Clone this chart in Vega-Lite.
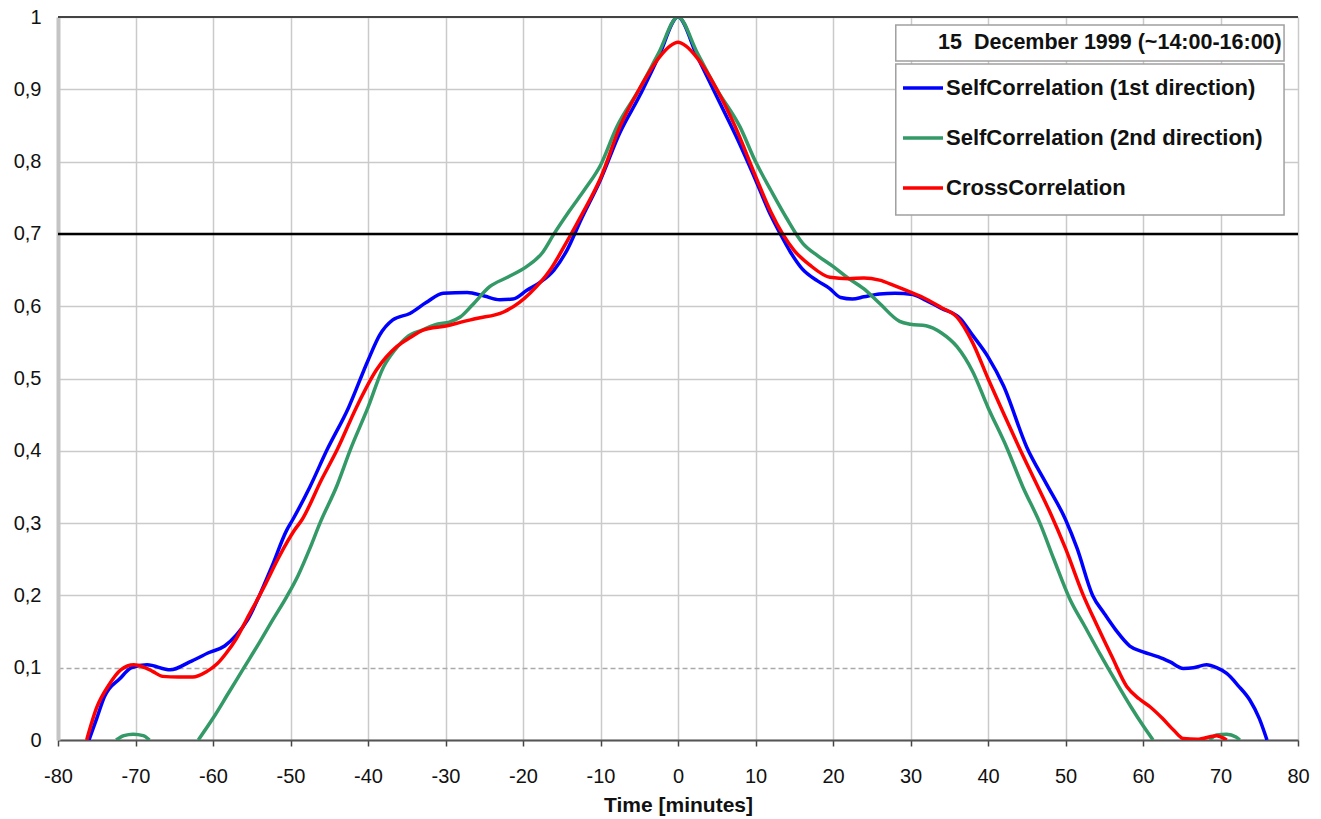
{
  "$schema": "https://vega.github.io/schema/vega-lite/v6.json",
  "autosize": "none",
  "width": 1240,
  "height": 723,
  "padding": {"left": 58, "top": 17, "right": 23, "bottom": 79},
  "background": "white",
  "config": {
    "view": {"stroke": null},
    "font": "Liberation Sans",
    "axis": {"grid": true, "labelFont": "Liberation Sans", "titleFont": "Liberation Sans", "gridColor": "#cacaca", "gridWidth": 1.5, "labelColor": "#111", "titleColor": "#111"},
    "axisX": {"grid": true},
    "axisY": {"grid": true}
  },
  "datasets": {
    "curves": [
      {"t": -76, "r": 0, "series": "SelfCorrelation (1st direction)", "seg": "a"},
      {"t": -75, "r": 0.03, "series": "SelfCorrelation (1st direction)", "seg": "a"},
      {"t": -74, "r": 0.06, "series": "SelfCorrelation (1st direction)", "seg": "a"},
      {"t": -72, "r": 0.085, "series": "SelfCorrelation (1st direction)", "seg": "a"},
      {"t": -70.5, "r": 0.1, "series": "SelfCorrelation (1st direction)", "seg": "a"},
      {"t": -68.5, "r": 0.104, "series": "SelfCorrelation (1st direction)", "seg": "a"},
      {"t": -65.5, "r": 0.097, "series": "SelfCorrelation (1st direction)", "seg": "a"},
      {"t": -63, "r": 0.108, "series": "SelfCorrelation (1st direction)", "seg": "a"},
      {"t": -60.5, "r": 0.121, "series": "SelfCorrelation (1st direction)", "seg": "a"},
      {"t": -58.5, "r": 0.13, "series": "SelfCorrelation (1st direction)", "seg": "a"},
      {"t": -57, "r": 0.145, "series": "SelfCorrelation (1st direction)", "seg": "a"},
      {"t": -55.5, "r": 0.167, "series": "SelfCorrelation (1st direction)", "seg": "a"},
      {"t": -54, "r": 0.2, "series": "SelfCorrelation (1st direction)", "seg": "a"},
      {"t": -52.4, "r": 0.24, "series": "SelfCorrelation (1st direction)", "seg": "a"},
      {"t": -50.5, "r": 0.29, "series": "SelfCorrelation (1st direction)", "seg": "a"},
      {"t": -49.7, "r": 0.305, "series": "SelfCorrelation (1st direction)", "seg": "a"},
      {"t": -47.5, "r": 0.35, "series": "SelfCorrelation (1st direction)", "seg": "a"},
      {"t": -45.3, "r": 0.401, "series": "SelfCorrelation (1st direction)", "seg": "a"},
      {"t": -42.5, "r": 0.46, "series": "SelfCorrelation (1st direction)", "seg": "a"},
      {"t": -40, "r": 0.525, "series": "SelfCorrelation (1st direction)", "seg": "a"},
      {"t": -38.5, "r": 0.56, "series": "SelfCorrelation (1st direction)", "seg": "a"},
      {"t": -36.8, "r": 0.581, "series": "SelfCorrelation (1st direction)", "seg": "a"},
      {"t": -34.6, "r": 0.59, "series": "SelfCorrelation (1st direction)", "seg": "a"},
      {"t": -32.5, "r": 0.605, "series": "SelfCorrelation (1st direction)", "seg": "a"},
      {"t": -30.3, "r": 0.618, "series": "SelfCorrelation (1st direction)", "seg": "a"},
      {"t": -27.2, "r": 0.619, "series": "SelfCorrelation (1st direction)", "seg": "a"},
      {"t": -25, "r": 0.614, "series": "SelfCorrelation (1st direction)", "seg": "a"},
      {"t": -23, "r": 0.609, "series": "SelfCorrelation (1st direction)", "seg": "a"},
      {"t": -21.3, "r": 0.61, "series": "SelfCorrelation (1st direction)", "seg": "a"},
      {"t": -19.5, "r": 0.622, "series": "SelfCorrelation (1st direction)", "seg": "a"},
      {"t": -17.8, "r": 0.633, "series": "SelfCorrelation (1st direction)", "seg": "a"},
      {"t": -16, "r": 0.65, "series": "SelfCorrelation (1st direction)", "seg": "a"},
      {"t": -14.3, "r": 0.678, "series": "SelfCorrelation (1st direction)", "seg": "a"},
      {"t": -12.5, "r": 0.72, "series": "SelfCorrelation (1st direction)", "seg": "a"},
      {"t": -10, "r": 0.775, "series": "SelfCorrelation (1st direction)", "seg": "a"},
      {"t": -7.5, "r": 0.84, "series": "SelfCorrelation (1st direction)", "seg": "a"},
      {"t": -5, "r": 0.89, "series": "SelfCorrelation (1st direction)", "seg": "a"},
      {"t": -2.5, "r": 0.945, "series": "SelfCorrelation (1st direction)", "seg": "a"},
      {"t": 0, "r": 1.0, "series": "SelfCorrelation (1st direction)", "seg": "a"},
      {"t": 2.5, "r": 0.945, "series": "SelfCorrelation (1st direction)", "seg": "a"},
      {"t": 5, "r": 0.89, "series": "SelfCorrelation (1st direction)", "seg": "a"},
      {"t": 7.5, "r": 0.835, "series": "SelfCorrelation (1st direction)", "seg": "a"},
      {"t": 10, "r": 0.775, "series": "SelfCorrelation (1st direction)", "seg": "a"},
      {"t": 12, "r": 0.725, "series": "SelfCorrelation (1st direction)", "seg": "a"},
      {"t": 13.2, "r": 0.7, "series": "SelfCorrelation (1st direction)", "seg": "a"},
      {"t": 14.5, "r": 0.675, "series": "SelfCorrelation (1st direction)", "seg": "a"},
      {"t": 16, "r": 0.652, "series": "SelfCorrelation (1st direction)", "seg": "a"},
      {"t": 18, "r": 0.635, "series": "SelfCorrelation (1st direction)", "seg": "a"},
      {"t": 19.5, "r": 0.625, "series": "SelfCorrelation (1st direction)", "seg": "a"},
      {"t": 21, "r": 0.612, "series": "SelfCorrelation (1st direction)", "seg": "a"},
      {"t": 22.5, "r": 0.61, "series": "SelfCorrelation (1st direction)", "seg": "a"},
      {"t": 24, "r": 0.613, "series": "SelfCorrelation (1st direction)", "seg": "a"},
      {"t": 26, "r": 0.617, "series": "SelfCorrelation (1st direction)", "seg": "a"},
      {"t": 28, "r": 0.618, "series": "SelfCorrelation (1st direction)", "seg": "a"},
      {"t": 30.3, "r": 0.616, "series": "SelfCorrelation (1st direction)", "seg": "a"},
      {"t": 32, "r": 0.608, "series": "SelfCorrelation (1st direction)", "seg": "a"},
      {"t": 34, "r": 0.597, "series": "SelfCorrelation (1st direction)", "seg": "a"},
      {"t": 36.4, "r": 0.583, "series": "SelfCorrelation (1st direction)", "seg": "a"},
      {"t": 38, "r": 0.56, "series": "SelfCorrelation (1st direction)", "seg": "a"},
      {"t": 40, "r": 0.53, "series": "SelfCorrelation (1st direction)", "seg": "a"},
      {"t": 42, "r": 0.49, "series": "SelfCorrelation (1st direction)", "seg": "a"},
      {"t": 45, "r": 0.405, "series": "SelfCorrelation (1st direction)", "seg": "a"},
      {"t": 47.5, "r": 0.355, "series": "SelfCorrelation (1st direction)", "seg": "a"},
      {"t": 50, "r": 0.305, "series": "SelfCorrelation (1st direction)", "seg": "a"},
      {"t": 51.5, "r": 0.265, "series": "SelfCorrelation (1st direction)", "seg": "a"},
      {"t": 53.5, "r": 0.2, "series": "SelfCorrelation (1st direction)", "seg": "a"},
      {"t": 55, "r": 0.175, "series": "SelfCorrelation (1st direction)", "seg": "a"},
      {"t": 56.5, "r": 0.152, "series": "SelfCorrelation (1st direction)", "seg": "a"},
      {"t": 58.3, "r": 0.13, "series": "SelfCorrelation (1st direction)", "seg": "a"},
      {"t": 60, "r": 0.122, "series": "SelfCorrelation (1st direction)", "seg": "a"},
      {"t": 62, "r": 0.115, "series": "SelfCorrelation (1st direction)", "seg": "a"},
      {"t": 63.5, "r": 0.108, "series": "SelfCorrelation (1st direction)", "seg": "a"},
      {"t": 65.2, "r": 0.099, "series": "SelfCorrelation (1st direction)", "seg": "a"},
      {"t": 66.5, "r": 0.1, "series": "SelfCorrelation (1st direction)", "seg": "a"},
      {"t": 68.2, "r": 0.104, "series": "SelfCorrelation (1st direction)", "seg": "a"},
      {"t": 69.5, "r": 0.1, "series": "SelfCorrelation (1st direction)", "seg": "a"},
      {"t": 70.8, "r": 0.092, "series": "SelfCorrelation (1st direction)", "seg": "a"},
      {"t": 72.3, "r": 0.075, "series": "SelfCorrelation (1st direction)", "seg": "a"},
      {"t": 73.8, "r": 0.055, "series": "SelfCorrelation (1st direction)", "seg": "a"},
      {"t": 75, "r": 0.03, "series": "SelfCorrelation (1st direction)", "seg": "a"},
      {"t": 76, "r": 0, "series": "SelfCorrelation (1st direction)", "seg": "a"},

      {"t": -72.5, "r": 0, "series": "SelfCorrelation (2nd direction)", "seg": "a"},
      {"t": -71.5, "r": 0.006, "series": "SelfCorrelation (2nd direction)", "seg": "a"},
      {"t": -70.3, "r": 0.008, "series": "SelfCorrelation (2nd direction)", "seg": "a"},
      {"t": -69, "r": 0.006, "series": "SelfCorrelation (2nd direction)", "seg": "a"},
      {"t": -68.2, "r": 0, "series": "SelfCorrelation (2nd direction)", "seg": "a"},
      {"t": -61.9, "r": 0, "series": "SelfCorrelation (2nd direction)", "seg": "b"},
      {"t": -60, "r": 0.03, "series": "SelfCorrelation (2nd direction)", "seg": "b"},
      {"t": -58, "r": 0.065, "series": "SelfCorrelation (2nd direction)", "seg": "b"},
      {"t": -56, "r": 0.1, "series": "SelfCorrelation (2nd direction)", "seg": "b"},
      {"t": -54, "r": 0.135, "series": "SelfCorrelation (2nd direction)", "seg": "b"},
      {"t": -52.3, "r": 0.166, "series": "SelfCorrelation (2nd direction)", "seg": "b"},
      {"t": -50.5, "r": 0.198, "series": "SelfCorrelation (2nd direction)", "seg": "b"},
      {"t": -49, "r": 0.228, "series": "SelfCorrelation (2nd direction)", "seg": "b"},
      {"t": -47.5, "r": 0.265, "series": "SelfCorrelation (2nd direction)", "seg": "b"},
      {"t": -46.2, "r": 0.3, "series": "SelfCorrelation (2nd direction)", "seg": "b"},
      {"t": -44, "r": 0.352, "series": "SelfCorrelation (2nd direction)", "seg": "b"},
      {"t": -42.3, "r": 0.401, "series": "SelfCorrelation (2nd direction)", "seg": "b"},
      {"t": -40, "r": 0.46, "series": "SelfCorrelation (2nd direction)", "seg": "b"},
      {"t": -38, "r": 0.516, "series": "SelfCorrelation (2nd direction)", "seg": "b"},
      {"t": -36.5, "r": 0.54, "series": "SelfCorrelation (2nd direction)", "seg": "b"},
      {"t": -35, "r": 0.557, "series": "SelfCorrelation (2nd direction)", "seg": "b"},
      {"t": -33, "r": 0.567, "series": "SelfCorrelation (2nd direction)", "seg": "b"},
      {"t": -31.1, "r": 0.575, "series": "SelfCorrelation (2nd direction)", "seg": "b"},
      {"t": -29.5, "r": 0.578, "series": "SelfCorrelation (2nd direction)", "seg": "b"},
      {"t": -28.1, "r": 0.585, "series": "SelfCorrelation (2nd direction)", "seg": "b"},
      {"t": -26.5, "r": 0.602, "series": "SelfCorrelation (2nd direction)", "seg": "b"},
      {"t": -24.3, "r": 0.627, "series": "SelfCorrelation (2nd direction)", "seg": "b"},
      {"t": -22, "r": 0.64, "series": "SelfCorrelation (2nd direction)", "seg": "b"},
      {"t": -19.5, "r": 0.655, "series": "SelfCorrelation (2nd direction)", "seg": "b"},
      {"t": -17.5, "r": 0.674, "series": "SelfCorrelation (2nd direction)", "seg": "b"},
      {"t": -16, "r": 0.7, "series": "SelfCorrelation (2nd direction)", "seg": "b"},
      {"t": -14, "r": 0.732, "series": "SelfCorrelation (2nd direction)", "seg": "b"},
      {"t": -12, "r": 0.762, "series": "SelfCorrelation (2nd direction)", "seg": "b"},
      {"t": -10, "r": 0.795, "series": "SelfCorrelation (2nd direction)", "seg": "b"},
      {"t": -7.9, "r": 0.848, "series": "SelfCorrelation (2nd direction)", "seg": "b"},
      {"t": -5, "r": 0.9, "series": "SelfCorrelation (2nd direction)", "seg": "b"},
      {"t": -2.5, "r": 0.95, "series": "SelfCorrelation (2nd direction)", "seg": "b"},
      {"t": 0, "r": 1.0, "series": "SelfCorrelation (2nd direction)", "seg": "b"},
      {"t": 2.5, "r": 0.95, "series": "SelfCorrelation (2nd direction)", "seg": "b"},
      {"t": 5, "r": 0.9, "series": "SelfCorrelation (2nd direction)", "seg": "b"},
      {"t": 8, "r": 0.848, "series": "SelfCorrelation (2nd direction)", "seg": "b"},
      {"t": 10, "r": 0.8, "series": "SelfCorrelation (2nd direction)", "seg": "b"},
      {"t": 12, "r": 0.76, "series": "SelfCorrelation (2nd direction)", "seg": "b"},
      {"t": 14, "r": 0.722, "series": "SelfCorrelation (2nd direction)", "seg": "b"},
      {"t": 16.1, "r": 0.687, "series": "SelfCorrelation (2nd direction)", "seg": "b"},
      {"t": 18, "r": 0.67, "series": "SelfCorrelation (2nd direction)", "seg": "b"},
      {"t": 20, "r": 0.655, "series": "SelfCorrelation (2nd direction)", "seg": "b"},
      {"t": 21.8, "r": 0.64, "series": "SelfCorrelation (2nd direction)", "seg": "b"},
      {"t": 24, "r": 0.624, "series": "SelfCorrelation (2nd direction)", "seg": "b"},
      {"t": 26, "r": 0.604, "series": "SelfCorrelation (2nd direction)", "seg": "b"},
      {"t": 28.6, "r": 0.579, "series": "SelfCorrelation (2nd direction)", "seg": "b"},
      {"t": 30, "r": 0.575, "series": "SelfCorrelation (2nd direction)", "seg": "b"},
      {"t": 32, "r": 0.573, "series": "SelfCorrelation (2nd direction)", "seg": "b"},
      {"t": 34, "r": 0.563, "series": "SelfCorrelation (2nd direction)", "seg": "b"},
      {"t": 36, "r": 0.544, "series": "SelfCorrelation (2nd direction)", "seg": "b"},
      {"t": 38, "r": 0.51, "series": "SelfCorrelation (2nd direction)", "seg": "b"},
      {"t": 40, "r": 0.46, "series": "SelfCorrelation (2nd direction)", "seg": "b"},
      {"t": 42.4, "r": 0.405, "series": "SelfCorrelation (2nd direction)", "seg": "b"},
      {"t": 44.5, "r": 0.35, "series": "SelfCorrelation (2nd direction)", "seg": "b"},
      {"t": 46.7, "r": 0.3, "series": "SelfCorrelation (2nd direction)", "seg": "b"},
      {"t": 48.5, "r": 0.25, "series": "SelfCorrelation (2nd direction)", "seg": "b"},
      {"t": 50.6, "r": 0.194, "series": "SelfCorrelation (2nd direction)", "seg": "b"},
      {"t": 52.5, "r": 0.157, "series": "SelfCorrelation (2nd direction)", "seg": "b"},
      {"t": 54.5, "r": 0.118, "series": "SelfCorrelation (2nd direction)", "seg": "b"},
      {"t": 56.6, "r": 0.079, "series": "SelfCorrelation (2nd direction)", "seg": "b"},
      {"t": 58.5, "r": 0.045, "series": "SelfCorrelation (2nd direction)", "seg": "b"},
      {"t": 60, "r": 0.02, "series": "SelfCorrelation (2nd direction)", "seg": "b"},
      {"t": 61.3, "r": 0, "series": "SelfCorrelation (2nd direction)", "seg": "b"},
      {"t": 68.6, "r": 0, "series": "SelfCorrelation (2nd direction)", "seg": "c"},
      {"t": 69.5, "r": 0.007, "series": "SelfCorrelation (2nd direction)", "seg": "c"},
      {"t": 70.8, "r": 0.008, "series": "SelfCorrelation (2nd direction)", "seg": "c"},
      {"t": 72, "r": 0.004, "series": "SelfCorrelation (2nd direction)", "seg": "c"},
      {"t": 72.5, "r": 0, "series": "SelfCorrelation (2nd direction)", "seg": "c"},

      {"t": -76.3, "r": 0, "series": "CrossCorrelation", "seg": "a"},
      {"t": -75, "r": 0.045, "series": "CrossCorrelation", "seg": "a"},
      {"t": -73.5, "r": 0.075, "series": "CrossCorrelation", "seg": "a"},
      {"t": -71.9, "r": 0.097, "series": "CrossCorrelation", "seg": "a"},
      {"t": -70.2, "r": 0.104, "series": "CrossCorrelation", "seg": "a"},
      {"t": -69, "r": 0.101, "series": "CrossCorrelation", "seg": "a"},
      {"t": -67.8, "r": 0.095, "series": "CrossCorrelation", "seg": "a"},
      {"t": -66.5, "r": 0.088, "series": "CrossCorrelation", "seg": "a"},
      {"t": -64.5, "r": 0.087, "series": "CrossCorrelation", "seg": "a"},
      {"t": -62.6, "r": 0.087, "series": "CrossCorrelation", "seg": "a"},
      {"t": -60.9, "r": 0.094, "series": "CrossCorrelation", "seg": "a"},
      {"t": -59.5, "r": 0.105, "series": "CrossCorrelation", "seg": "a"},
      {"t": -58.3, "r": 0.12, "series": "CrossCorrelation", "seg": "a"},
      {"t": -57, "r": 0.14, "series": "CrossCorrelation", "seg": "a"},
      {"t": -55.7, "r": 0.166, "series": "CrossCorrelation", "seg": "a"},
      {"t": -53.5, "r": 0.21, "series": "CrossCorrelation", "seg": "a"},
      {"t": -51.4, "r": 0.255, "series": "CrossCorrelation", "seg": "a"},
      {"t": -49.5, "r": 0.29, "series": "CrossCorrelation", "seg": "a"},
      {"t": -48.5, "r": 0.305, "series": "CrossCorrelation", "seg": "a"},
      {"t": -46, "r": 0.36, "series": "CrossCorrelation", "seg": "a"},
      {"t": -44, "r": 0.401, "series": "CrossCorrelation", "seg": "a"},
      {"t": -41.5, "r": 0.46, "series": "CrossCorrelation", "seg": "a"},
      {"t": -38.9, "r": 0.512, "series": "CrossCorrelation", "seg": "a"},
      {"t": -36.3, "r": 0.544, "series": "CrossCorrelation", "seg": "a"},
      {"t": -34.5, "r": 0.557, "series": "CrossCorrelation", "seg": "a"},
      {"t": -32.9, "r": 0.567, "series": "CrossCorrelation", "seg": "a"},
      {"t": -29.8, "r": 0.573, "series": "CrossCorrelation", "seg": "a"},
      {"t": -28, "r": 0.578, "series": "CrossCorrelation", "seg": "a"},
      {"t": -26, "r": 0.583, "series": "CrossCorrelation", "seg": "a"},
      {"t": -22.5, "r": 0.592, "series": "CrossCorrelation", "seg": "a"},
      {"t": -20.5, "r": 0.605, "series": "CrossCorrelation", "seg": "a"},
      {"t": -19.1, "r": 0.618, "series": "CrossCorrelation", "seg": "a"},
      {"t": -16.5, "r": 0.65, "series": "CrossCorrelation", "seg": "a"},
      {"t": -14.3, "r": 0.69, "series": "CrossCorrelation", "seg": "a"},
      {"t": -12.5, "r": 0.725, "series": "CrossCorrelation", "seg": "a"},
      {"t": -10, "r": 0.777, "series": "CrossCorrelation", "seg": "a"},
      {"t": -7.5, "r": 0.848, "series": "CrossCorrelation", "seg": "a"},
      {"t": -5, "r": 0.9, "series": "CrossCorrelation", "seg": "a"},
      {"t": -2.5, "r": 0.943, "series": "CrossCorrelation", "seg": "a"},
      {"t": -1, "r": 0.96, "series": "CrossCorrelation", "seg": "a"},
      {"t": 0, "r": 0.965, "series": "CrossCorrelation", "seg": "a"},
      {"t": 1, "r": 0.96, "series": "CrossCorrelation", "seg": "a"},
      {"t": 2.5, "r": 0.943, "series": "CrossCorrelation", "seg": "a"},
      {"t": 5, "r": 0.9, "series": "CrossCorrelation", "seg": "a"},
      {"t": 7.4, "r": 0.848, "series": "CrossCorrelation", "seg": "a"},
      {"t": 10, "r": 0.78, "series": "CrossCorrelation", "seg": "a"},
      {"t": 12, "r": 0.73, "series": "CrossCorrelation", "seg": "a"},
      {"t": 13.5, "r": 0.7, "series": "CrossCorrelation", "seg": "a"},
      {"t": 15, "r": 0.677, "series": "CrossCorrelation", "seg": "a"},
      {"t": 17, "r": 0.657, "series": "CrossCorrelation", "seg": "a"},
      {"t": 19.6, "r": 0.64, "series": "CrossCorrelation", "seg": "a"},
      {"t": 22, "r": 0.638, "series": "CrossCorrelation", "seg": "a"},
      {"t": 24, "r": 0.639, "series": "CrossCorrelation", "seg": "a"},
      {"t": 26, "r": 0.636, "series": "CrossCorrelation", "seg": "a"},
      {"t": 28, "r": 0.628, "series": "CrossCorrelation", "seg": "a"},
      {"t": 30.3, "r": 0.618, "series": "CrossCorrelation", "seg": "a"},
      {"t": 32, "r": 0.61, "series": "CrossCorrelation", "seg": "a"},
      {"t": 34, "r": 0.598, "series": "CrossCorrelation", "seg": "a"},
      {"t": 36, "r": 0.585, "series": "CrossCorrelation", "seg": "a"},
      {"t": 38, "r": 0.55, "series": "CrossCorrelation", "seg": "a"},
      {"t": 40, "r": 0.5, "series": "CrossCorrelation", "seg": "a"},
      {"t": 42, "r": 0.452, "series": "CrossCorrelation", "seg": "a"},
      {"t": 44, "r": 0.405, "series": "CrossCorrelation", "seg": "a"},
      {"t": 46, "r": 0.36, "series": "CrossCorrelation", "seg": "a"},
      {"t": 48, "r": 0.315, "series": "CrossCorrelation", "seg": "a"},
      {"t": 50, "r": 0.265, "series": "CrossCorrelation", "seg": "a"},
      {"t": 52.3, "r": 0.2, "series": "CrossCorrelation", "seg": "a"},
      {"t": 54, "r": 0.16, "series": "CrossCorrelation", "seg": "a"},
      {"t": 56, "r": 0.115, "series": "CrossCorrelation", "seg": "a"},
      {"t": 57.9, "r": 0.074, "series": "CrossCorrelation", "seg": "a"},
      {"t": 59.5, "r": 0.057, "series": "CrossCorrelation", "seg": "a"},
      {"t": 60.9, "r": 0.046, "series": "CrossCorrelation", "seg": "a"},
      {"t": 62.5, "r": 0.03, "series": "CrossCorrelation", "seg": "a"},
      {"t": 64, "r": 0.013, "series": "CrossCorrelation", "seg": "a"},
      {"t": 65.2, "r": 0.002, "series": "CrossCorrelation", "seg": "a"},
      {"t": 67, "r": 0.001, "series": "CrossCorrelation", "seg": "a"},
      {"t": 69.5, "r": 0.006, "series": "CrossCorrelation", "seg": "a"},
      {"t": 70.8, "r": 0, "series": "CrossCorrelation", "seg": "a"}
    ],
    "boxes": [
      {"label": "15 \u00a0December 1999 (~14:00-16:00)"}
    ]
  },
  "layer": [
    {
      "data": {"name": "curves"},
      "mark": {"type": "line", "strokeWidth": 3.5, "interpolate": "monotone", "clip": true},
      "encoding": {
        "x": {
          "field": "t", "type": "quantitative",
          "scale": {"domain": [-80, 80], "nice": false, "zero": false},
          "axis": {
            "grid": true,
            "values": [-80, -70, -60, -50, -40, -30, -20, -10, 0, 10, 20, 30, 40, 50, 60, 70, 80],
            "labelExpr": "datum.value + ''",
            "title": "Time [minutes]", "titleFontSize": 21, "titleFontWeight": "bold", "titlePadding": 8,
            "labelFontSize": 20, "labelPadding": 20, "tickSize": 6, "tickColor": "#444", "tickWidth": 1.5,
            "domainColor": "#555", "domainWidth": 2, "labelFlush": false
          }
        },
        "y": {
          "field": "r", "type": "quantitative",
          "scale": {"domain": [0, 1], "nice": false},
          "axis": {
            "grid": true,
            "values": [0, 0.1, 0.2, 0.3, 0.4, 0.5, 0.6, 0.7, 0.8, 0.9, 1],
            "title": null, "labelFontSize": 20, "labelPadding": 17, "ticks": false,
            "domainColor": "#c4c4c4", "domainWidth": 4,
            "labelExpr": "replace(format(datum.value, '.1~f'), '.', ',')",
            "gridDash": {"condition": {"test": "abs(datum.value - 0.1) < 0.001", "value": [5, 3]}, "value": []},
            "gridColor": {"condition": {"test": "abs(datum.value - 0.1) < 0.001", "value": "#aaaaaa"}, "value": "#cacaca"}
          }
        },
        "color": {
          "field": "series", "type": "nominal",
          "scale": {
            "domain": ["SelfCorrelation (1st direction)", "SelfCorrelation (2nd direction)", "CrossCorrelation"],
            "range": ["#0000ff", "#339966", "#ff0000"]
          },
          "legend": {
            "title": null, "orient": "none", "legendX": 843, "legendY": 49,
            "symbolType": "stroke", "symbolSize": 1600, "symbolStrokeWidth": 3.5,
            "labelFontSize": 22, "labelFontWeight": "bold", "labelFont": "Liberation Sans", "labelColor": "#111",
            "labelOffset": 1, "rowPadding": 17, "labelLimit": 400, "padding": 0
          }
        },
        "detail": {"field": "seg", "type": "nominal"}
      }
    },
    {
      "data": {"name": "boxes"},
      "mark": {"type": "rect", "fill": "white", "stroke": "#a0a0a0", "strokeWidth": 1.5},
      "encoding": {
        "x": {"datum": 28.1, "type": "quantitative"},
        "x2": {"datum": 78.2},
        "y": {"datum": 0.989, "type": "quantitative"},
        "y2": {"datum": 0.939}
      }
    },
    {
      "data": {"name": "boxes"},
      "mark": {"type": "rect", "fill": "white", "stroke": "#a0a0a0", "strokeWidth": 1.5},
      "encoding": {
        "x": {"datum": 28.1, "type": "quantitative"},
        "x2": {"datum": 78.2},
        "y": {"datum": 0.935, "type": "quantitative"},
        "y2": {"datum": 0.726}
      }
    },
    {
      "data": {"name": "boxes"},
      "mark": {"type": "text", "align": "right", "baseline": "middle", "fontSize": 21.5, "fontWeight": "bold", "font": "Liberation Sans", "color": "#111"},
      "encoding": {
        "x": {"datum": 77.9, "type": "quantitative"},
        "y": {"datum": 0.964, "type": "quantitative"},
        "text": {"field": "label"}
      }
    },
    {
      "data": {"name": "boxes"},
      "mark": {"type": "rule", "color": "#000", "strokeWidth": 2.5},
      "encoding": {"y": {"datum": 0.7, "type": "quantitative"}}
    },
    {
      "data": {"name": "boxes"},
      "mark": {"type": "rule", "color": "#444", "strokeWidth": 2},
      "encoding": {"y": {"datum": 1, "type": "quantitative"}}
    }
  ]
}
